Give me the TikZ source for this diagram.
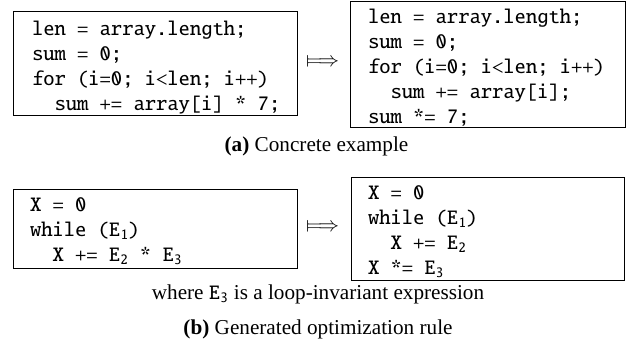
\documentclass[tikz,border=0pt]{standalone}
\usepackage{stmaryrd}
\usepackage{fontspec}
\setmainfont{Liberation Serif}
\newcommand\codefont{\fontencoding{T1}\fontfamily{txtt}\fontsize{21.5}{25}\selectfont}
\newcommand\ts{\hphantom{x}}
\newcommand\ind{\hphantom{xx}}
\begin{document}
\begin{tikzpicture}[x=1pt,y=-1pt,
  codebox/.style={draw, line width=0.8pt, rectangle, inner sep=0pt, anchor=center},
  codetext/.style={align=left, inner sep=0pt, font=\codefont, anchor=center},
  mapsarrow/.style={font=\fontsize{22}{24}\selectfont, inner sep=0pt},
  captext/.style={font=\fontsize{21.2}{24}\selectfont, inner sep=0pt}]
\useasboundingbox (0,0) rectangle (628,345);
% top row
\node[codebox, minimum width=284pt, minimum height=104pt] (ca) at (155,63) {};
\node[codetext, text width=246pt] (ta) at (155,68)
  {len\ts=\ts array.length;\\ sum\ts=\ts0;\\ for\ts(i=0;\ts i<len;\ts i++)\\ \ind sum\ts+=\ts array[i]\ts*\ts7;};
\node[codebox, minimum width=275pt, minimum height=126pt] (cb) at (487.5,64) {};
\node[codetext, text width=239pt] (tb) at (487.5,68)
  {len\ts=\ts array.length;\\ sum\ts=\ts0;\\ for\ts(i=0;\ts i<len;\ts i++)\\ \ind sum\ts+=\ts array[i];\\ sum\ts*=\ts7;};
\node[mapsarrow] (ma) at (323,63) {$\Longmapsto$};
\node[captext] (capa) at (316.5,146) {\textbf{(a)} Concrete example};
% bottom row
\node[codebox, minimum width=284pt, minimum height=79pt] (ra) at (155,228.5) {};
\node[codetext, text width=250pt] (tra) at (155,231.5)
  {X\ts=\ts0\\ while\ts(E\textsubscript{1})\\ \ind X\ts+=\ts E\textsubscript{2}\ts*\ts E\textsubscript{3}};
\node[codebox, minimum width=273pt, minimum height=103pt] (rb) at (487.5,228.5) {};
\node[codetext, text width=239pt] (trb) at (487.5,232)
  {X\ts=\ts0\\ while\ts(E\textsubscript{1})\\ \ind X\ts+=\ts E\textsubscript{2}\\ X\ts*=\ts E\textsubscript{3}};
\node[mapsarrow] (mb) at (323,228) {$\Longmapsto$};
\node[captext] (where) at (318,294) {where {\codefont E\textsubscript{3}} is a loop-invariant expression};
\node[captext] (capb) at (318,329) {\textbf{(b)} Generated optimization rule};
\end{tikzpicture}
\end{document}
